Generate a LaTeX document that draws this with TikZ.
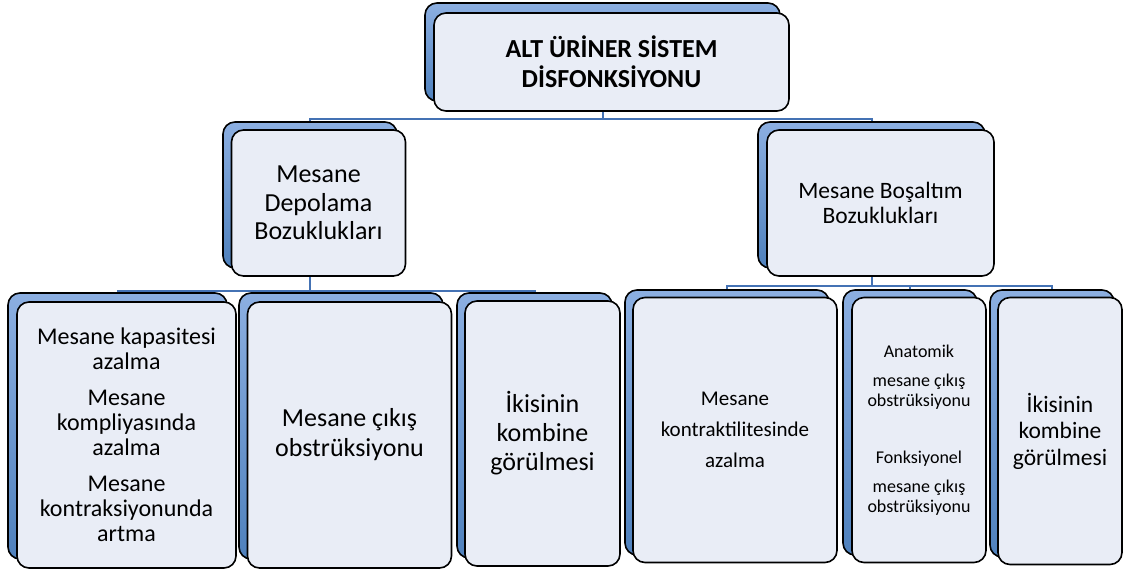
\documentclass[tikz,border=0pt]{standalone}
\usepackage{fontspec}
\setmainfont{Carlito}
\usetikzlibrary{backgrounds}
\definecolor{backtop}{RGB}{140,175,225}
\definecolor{backbot}{RGB}{79,129,189}
\definecolor{frontfill}{RGB}{233,237,246}
\definecolor{linkblue}{RGB}{68,114,180}
\tikzset{
  backcard/.style 2 args={draw=black,line width=1.6pt,rounded corners=12pt,
    top color=backtop,bottom color=backbot,minimum width=#1,minimum height=#2,inner sep=0pt},
  frontcard/.style 2 args={draw=black,line width=1.6pt,rounded corners=12pt,
    fill=frontfill,minimum width=#1,minimum height=#2,inner sep=0pt,align=center},
  link/.style={draw=linkblue,line width=2pt}
}
\begin{document}
\begin{tikzpicture}[x=1pt,y=-1pt]
  \useasboundingbox (0,0) rectangle (1125,574);
  % top
  \node[backcard={355}{98}] (rootb) at (602.5,52) {};
  \node[frontcard={355}{98},font=\fontsize{26}{30}\selectfont\bfseries] (root) at (611.5,62)
    {ALT ÜRİNER SİSTEM\\DİSFONKSİYONU};
  % second row
  \node[backcard={174}{146}] (depb) at (310,195) {};
  \node[frontcard={174}{146},font=\fontsize{26}{28.5}\selectfont] (dep) at (318.5,203)
    {Mesane\\Depolama\\Bozuklukları};
  \node[backcard={227}{146}] (bosb) at (871.5,195) {};
  \node[frontcard={227}{146},font=\fontsize{23.5}{25}\selectfont] (bos) at (880.5,203)
    {Mesane Boşaltım\\Bozuklukları};
  % third row, left
  \node[backcard={219}{266}] (kapb) at (117.5,426) {};
  \node[frontcard={219}{266},font=\fontsize{24}{25}\selectfont] (kap) at (126.5,435)
    {Mesane kapasitesi\\azalma\\[11pt]Mesane\\kompliyasında\\azalma\\[11pt]Mesane\\kontraksiyonunda\\artma};
  \node[backcard={204}{266}] (cikb) at (341,426) {};
  \node[frontcard={204}{266},font=\fontsize{26}{30}\selectfont] (cik) at (349.5,435)
    {Mesane çıkış\\obstrüksiyonu};
  \node[backcard={155}{265}] (ikib) at (534.5,425.5) {};
  \node[frontcard={155}{265},font=\fontsize{26}{29}\selectfont] (iki) at (542.5,433.5)
    {İkisinin\\kombine\\görülmesi};
  % third row, right
  \node[backcard={204}{265}] (konb) at (727,422.5) {};
  \node[frontcard={204}{265},font=\fontsize{21}{31}\selectfont] (kon) at (735,430)
    {Mesane\\kontraktilitesinde\\azalma};
  \node[backcard={134}{265}] (anab) at (910,422.5) {};
  \node[frontcard={134}{265},font=\fontsize{18}{20}\selectfont] (ana) at (919,430)
    {Anatomik\\[9pt]mesane çıkış\\obstrüksiyonu\\[37pt]Fonksiyonel\\[9pt]mesane çıkış\\obstrüksiyonu};
  \node[backcard={124}{267}] (kombb) at (1052,423.5) {};
  \node[frontcard={124}{267},font=\fontsize{23.5}{26.5}\selectfont] (komb) at (1060,431)
    {İkisinin\\kombine\\görülmesi};
  % connectors
  \begin{scope}[on background layer]
    \draw[link] (rootb.south) -- ++(0,17) -| (depb.north);
    \draw[link] (rootb.south) -- ++(0,17) -| (bosb.north);
    \draw[link] (depb.south) -- ++(0,22) -| (kapb.north);
    \draw[link] (depb.south) -- ++(0,22) -| (cikb.north);
    \draw[link] (depb.south) -- ++(0,22) -| (ikib.north);
    \draw[link] (bosb.south) -- ++(0,17) -| (konb.north);
    \draw[link] (bosb.south) -- ++(0,17) -| (anab.north);
    \draw[link] (bosb.south) -- ++(0,17) -| (kombb.north);
  \end{scope}
\end{tikzpicture}
\end{document}
